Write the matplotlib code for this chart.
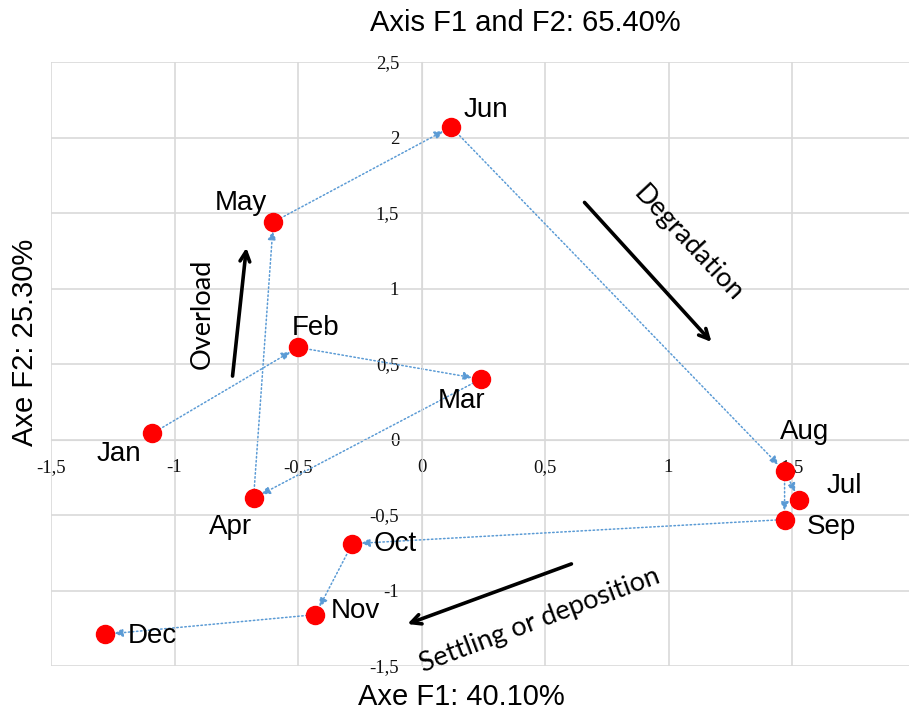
import numpy as np
import matplotlib.pyplot as plt
from matplotlib.ticker import FuncFormatter

# monthly scores on the first two factors
months = ["Jan", "Feb", "Mar", "Apr", "May", "Jun",
          "Jul", "Aug", "Sep", "Oct", "Nov", "Dec"]
f1 = [-1.09, -0.50, 0.24, -0.68, -0.60, 0.12, 1.53, 1.47, 1.47, -0.28, -0.43, -1.28]
f2 = [0.04, 0.61, 0.40, -0.39, 1.44, 2.07, -0.40, -0.21, -0.53, -0.69, -1.16, -1.29]

# order in which the points are linked
track_1 = ["Jan", "Feb", "Mar", "Apr", "May", "Jun", "Aug", "Jul"]
track_2 = ["Aug", "Sep", "Oct", "Nov", "Dec"]

x_ticks = [-1.5, -1, -0.5, 0, 0.5, 1, 1.5]
y_ticks = [-1.5, -1, -0.5, 0, 0.5, 1, 1.5, 2, 2.5]

title = "Axis F1 and F2: 65.40%"
x_title = "Axe F1: 40.10%"
y_title = "Axe F2: 25.30%"

# label offsets in pixels (dx right, dy down)
label_off = {"Jan": (-33, 21), "Feb": (18, -19), "Mar": (-19, 22), "Apr": (-23, 29),
             "May": (-32, -19), "Jun": (35, -17), "Jul": (45, -14), "Aug": (20, -39),
             "Sep": (47, 7), "Oct": (43, 0), "Nov": (40, -4), "Dec": (47, 2)}

pos = {m: (x, y) for m, x, y in zip(months, f1, f2)}

fig = plt.figure(figsize=(9.09, 7.11), dpi=100)
ax = fig.add_axes([51/909, 45/711, 864.5/909, 604/711])
ax.set_xlim(-1.5, 2.0)
ax.set_ylim(-1.5, 2.5)
ax.set_xticks(x_ticks)
ax.set_yticks(y_ticks)
comma = FuncFormatter(lambda v, p: ("%g" % v).replace(".", ","))
ax.xaxis.set_major_formatter(comma)
ax.yaxis.set_major_formatter(comma)
ax.grid(color="#D9D9D9", lw=1.2, zorder=0)
ax.set_axisbelow(True)

for s in ["top", "right"]:
    ax.spines[s].set_visible(False)
ax.spines["bottom"].set_position(("data", 0))
ax.spines["left"].set_position(("data", 0))
ax.spines["bottom"].set_color("#D9D9D9")
ax.spines["left"].set_color("#D9D9D9")
ax.tick_params(length=0, labelsize=13.5, labelfontfamily="Liberation Serif", colors="#111111")
ax.tick_params(axis="x", pad=14)
ax.tick_params(axis="y", pad=16)

blue = "#5B9BD5"
for track in [track_1, track_2]:
    for a, b in zip(track[:-1], track[1:]):
        ax.annotate("", xy=pos[b], xytext=pos[a],
                    arrowprops=dict(arrowstyle="-|>,head_length=0.5,head_width=0.25",
                                    color=blue, lw=1.1, linestyle=":",
                                    shrinkA=0, shrinkB=6.5), zorder=2)

ax.plot(f1, f2, "o", color="#FF0000", ms=13, zorder=3, clip_on=False)

for m in months:
    dx, dy = label_off[m]
    ax.annotate(m, pos[m], xytext=(dx*0.72, -dy*0.72), textcoords="offset points",
                ha="center", va="center", fontsize=20, family="Liberation Sans", zorder=4)

# trend arrows
arrow_kw = dict(arrowstyle="->,head_length=0.7,head_width=0.35", color="black", lw=2.6,
                shrinkA=0, shrinkB=0)
ax.annotate("", xy=(-0.709, 1.27), xytext=(-0.765, 0.42), arrowprops=arrow_kw)
ax.annotate("", xy=(1.174, 0.646), xytext=(0.66, 1.57), arrowprops=arrow_kw)
ax.annotate("", xy=(-0.057, -1.222), xytext=(0.607, -0.824), arrowprops=arrow_kw)

note_kw = dict(ha="center", va="center", fontsize=19.5, family="Lato", rotation_mode="anchor")
ax.text(-0.887, 0.83, "Overload", rotation=90, **note_kw)
ax.text(1.081, 1.295, "Degradation", rotation=-47, **note_kw)
ax.text(0.478, -1.20, "Settling or deposition", rotation=20.7, **note_kw)

fig.text(525/909, 1 - 23/711, title, ha="center", va="center", fontsize=21,
         family="Liberation Sans")
fig.text(461/909, 1 - 697/711, x_title, ha="center", va="center", fontsize=21,
         family="Liberation Sans")
fig.text(25/909, 1 - 342/711, y_title, ha="center", va="center", fontsize=21,
         family="Liberation Sans", rotation=90)

fig.savefig("out.png", dpi=100)
